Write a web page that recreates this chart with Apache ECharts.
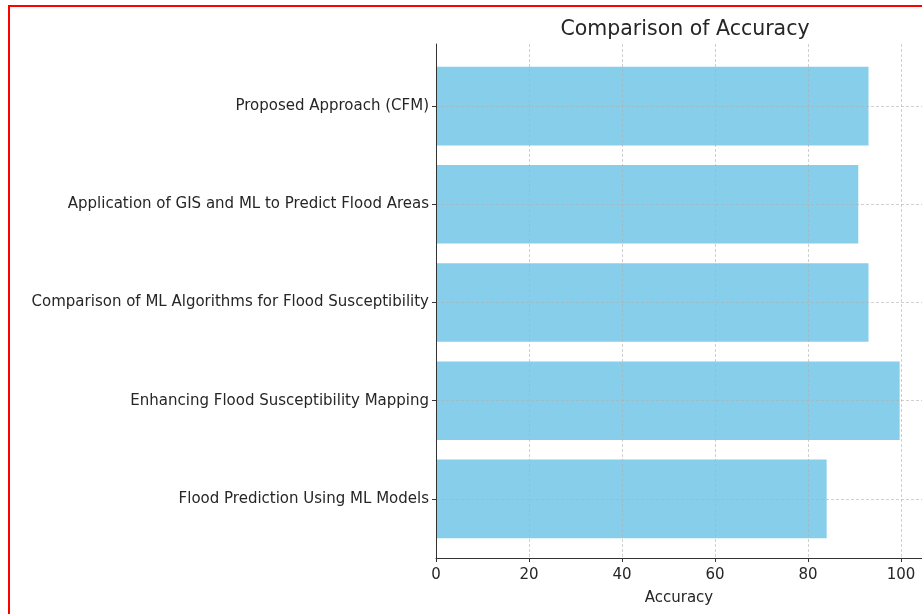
<!DOCTYPE html>
<html>
<head>
<meta charset="utf-8">
<title>Comparison of Accuracy</title>
<script src="https://cdn.jsdelivr.net/npm/echarts@6/dist/echarts.min.js"></script>
<style>
html, body { margin: 0; padding: 0; background: #fff; }
#chart { width: 922px; height: 614px; }
#frame { position: absolute; left: 8px; top: 5px; width: 940px; height: 640px;
         border-left: 2px solid #ff0000; border-top: 2px solid #ff0000; pointer-events: none; }
</style>
</head>
<body>
<div id="chart"></div>
<div id="frame"></div>
<script>
var categories = [
    'Proposed Approach (CFM)',
    'Application of GIS and ML to Predict Flood Areas',
    'Comparison of ML Algorithms for Flood Susceptibility',
    'Enhancing Flood Susceptibility Mapping',
    'Flood Prediction Using ML Models'
];
var accuracy = [93, 90.8, 93, 99.7, 84];
var xMin = 0, xMax = 104.5, xStep = 20;

var font = 'DejaVu Sans';
var gridLine = {
    show: true,
    showMinLine: false,
    showMaxLine: false,
    lineStyle: { color: '#b0b0b0', type: [3, 2], width: 1, opacity: 0.6 }
};

var option = {
    animation: false,
    backgroundColor: '#fff',
    title: {
        text: 'Comparison of Accuracy',
        left: 680,
        top: 14,
        textAlign: 'center',
        textStyle: { fontFamily: font, fontSize: 20.5, fontWeight: 'normal', color: '#262626' }
    },
    grid: [
        // axes frame
        { left: 436, top: 44, right: 0, bottom: 56 },
        // bars
        { left: 436, top: 57, right: 0, height: 491 }
    ],
    xAxis: [
        {
            gridIndex: 0,
            type: 'value',
            min: xMin,
            max: xMax,
            interval: xStep,
            z: 3,
            name: 'Accuracy',
            nameLocation: 'middle',
            nameGap: 33,
            nameTextStyle: { fontFamily: font, fontSize: 15, color: '#262626' },
            axisLine: { show: true, lineStyle: { color: '#333', width: 1 } },
            axisTick: { show: true, length: 4, lineStyle: { color: '#333' } },
            axisLabel: { fontFamily: font, fontSize: 15, color: '#262626', margin: 10, showMaxLabel: false },
            splitLine: gridLine
        },
        {
            gridIndex: 1,
            type: 'value',
            min: xMin,
            max: xMax,
            show: false
        }
    ],
    yAxis: [
        {
            gridIndex: 0,
            type: 'value',
            z: 5,
            axisLine: { show: true, lineStyle: { color: '#333', width: 1 } },
            axisTick: { show: false },
            axisLabel: { show: false },
            splitLine: { show: false }
        },
        {
            gridIndex: 1,
            type: 'category',
            inverse: true,
            data: categories,
            axisLine: { show: false },
            axisTick: { show: true, alignWithLabel: true, length: 4, lineStyle: { color: '#333' } },
            axisLabel: { fontFamily: font, fontSize: 15, color: '#262626', margin: 7 },
            splitLine: { show: false }
        }
    ],
    series: [{
        name: 'Accuracy',
        type: 'bar',
        xAxisIndex: 1,
        yAxisIndex: 1,
        barCategoryGap: '20%',
        itemStyle: { color: '#87ceeb' },
        data: accuracy,
        markLine: {
            silent: true,
            symbol: 'none',
            label: { show: false },
            lineStyle: { color: '#b0b0b0', type: [3, 2], width: 1, opacity: 0.6 },
            data: categories.map(function (c) { return { yAxis: c }; })
        }
    }]
};

var chart = echarts.init(document.getElementById('chart'));
chart.setOption(option);
</script>
</body>
</html>
